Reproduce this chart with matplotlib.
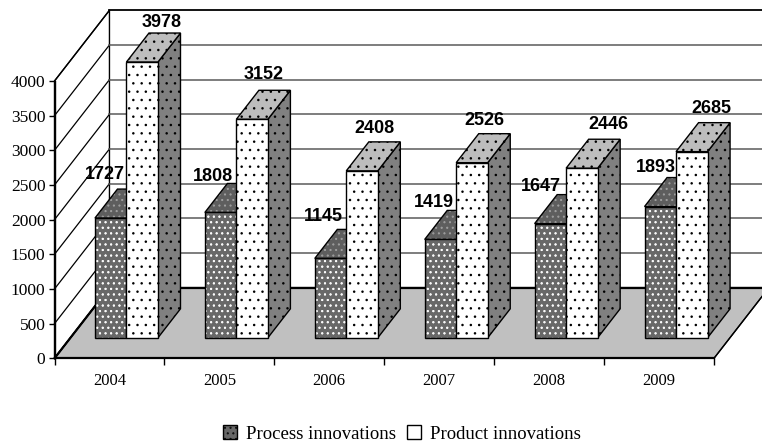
import matplotlib
matplotlib.use("Agg")
import matplotlib.pyplot as plt
import matplotlib.hatch as mhatch
from matplotlib.patches import Polygon, Patch

mhatch.SmallFilledCircles.size = 0.065

years = ["2004", "2005", "2006", "2007", "2008", "2009"]
process = [1727, 1808, 1145, 1419, 1647, 1893]
product = [3978, 3152, 2408, 2526, 2446, 2685]
y_ticks = [0, 500, 1000, 1500, 2000, 2500, 3000, 3500, 4000]
process_label_offsets = [(-6, 44), (-8, 36), (-7, 42), (-7, 37), (-9, 37), (-4, 39)]
product_label_offsets = [(19, 40), (12, 45), (12, 42), (12, 42), (27, 44), (20, 43)]

W, H = 762, 443
fig = plt.figure(figsize=(W / 100, H / 100), dpi=100, facecolor="white")
ax = fig.add_axes([54.5 / W, (H - 358.3) / H, 659.5 / W, 277.3 / H])
ax.set_xlim(0, 6)
ax.set_ylim(0, 4000)

DX, DY = 0.5, 1020       # depth shear, in data units
F0, F1 = 0.29, 0.70      # depth extent of the bars
X0, BW = 0.223, 0.2866   # bar offset and width in a category


def poly(pts, face, hatches=(), z=3, lw=1.0):
    ax.add_patch(Polygon(pts, closed=True, facecolor=face, edgecolor="none",
                         lw=0, zorder=z, clip_on=False))
    for hatch, hcolor in hatches:
        ax.add_patch(Polygon(pts, closed=True, fill=False, edgecolor=hcolor,
                             hatch=hatch, lw=0, zorder=z, clip_on=False))
    ax.add_patch(Polygon(pts, closed=True, fill=False, edgecolor="black",
                         lw=lw, zorder=z, clip_on=False))


def shift(x, y, f):
    return (x + DX * f, y + DY * f)


# walls and floor
top = y_ticks[-1]
poly([(0, 0), shift(0, 0, 1), shift(0, top, 1), (0, top)], "white", z=1)
poly([(0, 0), (6, 0), shift(6, 0, 1), shift(0, 0, 1)], "#c0c0c0", z=1.2)
for t in y_ticks:
    ax.plot([0, DX], [t, t + DY], color="black", lw=0.9, zorder=1.5, clip_on=False)
    if t == 0:
        ax.plot([DX, 6 + DX], [DY, DY], color="black", lw=1.6, zorder=1.5, clip_on=False)
    elif t == top:
        ax.plot([DX, 6 + DX], [t + DY, t + DY], color="black", lw=1.3, zorder=1.5, clip_on=False)
    else:
        ax.plot([DX, 6 + DX], [t + DY, t + DY], color="#5a5a5a", lw=1.1, zorder=1.5, clip_on=False)
ax.plot([0, DX], [0, DY], color="black", lw=1.6, zorder=1.6, clip_on=False)
ax.plot([6, 6 + DX], [0, DY], color="black", lw=0.9, zorder=1.6, clip_on=False)


def bar(i, off, v, front, top_c, side, z):
    x0 = i + X0 + off
    x1 = x0 + BW
    a = shift(x0, 0, F0)
    b = shift(x1, 0, F0)
    c = shift(x1, v, F0)
    d = shift(x0, v, F0)
    e = shift(x1, 0, F1)
    g = shift(x1, v, F1)
    k = shift(x0, v, F1)
    poly([b, e, g, c], side[0], side[1], z=z)
    poly([d, c, g, k], top_c[0], top_c[1], z=z)
    poly([a, b, c, d], front[0], front[1], z=z + 0.1)


for i in range(len(years)):
    bar(i, 0, process[i],
        ("#686868", [("...", "white"), ("...", "white")]),
        ("#5e5e5e", [("...", "#a8a8a8")]),
        ("#808080", [("..", "black")]), 3 + i)
    bar(i, BW, product[i],
        ("white", [("..", "black")]),
        ("#bdbdbd", [("..", "black")]),
        ("#808080", [("..", "black")]), 3.3 + i)

lab = dict(ha="center", va="center", family="Liberation Sans", fontweight="bold",
           fontsize=13, color="black", zorder=20, annotation_clip=False,
           textcoords="offset pixels")
for i in range(len(years)):
    ax.annotate(str(process[i]), shift(i + X0 + BW / 2, process[i], F0),
                xytext=process_label_offsets[i], **lab)
    ax.annotate(str(product[i]), shift(i + X0 + 1.5 * BW, product[i], F0),
                xytext=product_label_offsets[i], **lab)

# axes
for s in ("top", "right"):
    ax.spines[s].set_visible(False)
ax.spines["left"].set_linewidth(1.0)
ax.spines["bottom"].set_linewidth(1.6)
ax.patch.set_alpha(0)
ax.set_yticks(y_ticks)
ax.set_xticks(range(7))
ax.set_xticklabels([])
ax.set_xticks([i + 0.5 for i in range(6)], labels=years, minor=True)
ax.tick_params(axis="x", which="major", length=5, width=1, direction="out")
ax.tick_params(axis="x", which="minor", length=0, pad=10.5,
               labelfontfamily="Liberation Serif", labelsize=12)
ax.tick_params(axis="y", length=4, width=1, direction="out", pad=2.5,
               labelfontfamily="Liberation Serif", labelsize=12.5)

handles = [
    Patch(facecolor="#686868", edgecolor="black", hatch="...", label="Process innovations"),
    Patch(facecolor="white", edgecolor="black", label="Product innovations"),
]
leg = fig.legend(handles=handles, ncol=2, loc="center", bbox_to_anchor=(402 / W, (H - 434) / H),
                 frameon=False, prop={"family": "Liberation Serif", "size": 13.5},
                 handlelength=0.75, handleheight=0.75, handletextpad=0.45, columnspacing=0.6,
                 borderpad=0, borderaxespad=0)

fig.savefig("out.png", dpi=100)
